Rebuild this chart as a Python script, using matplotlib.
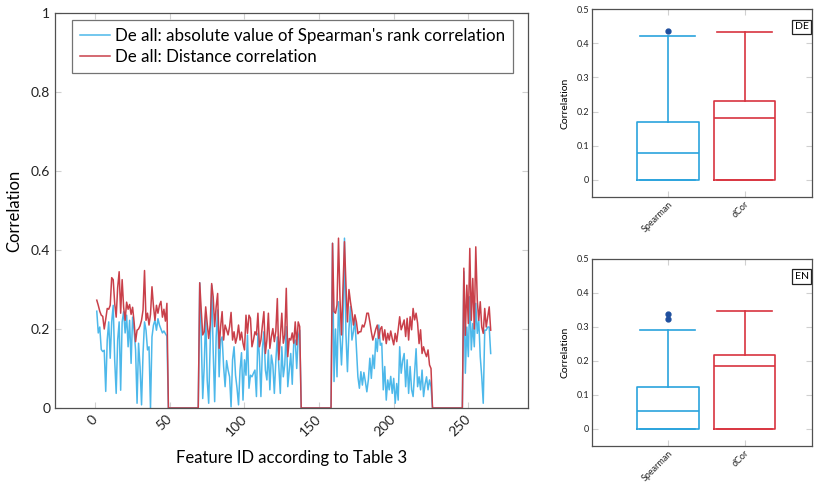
import matplotlib
matplotlib.use("Agg")
import matplotlib.pyplot as plt
import matplotlib.transforms as mtransforms
import numpy as np

plt.rcParams['font.family'] = ['Lato', 'DejaVu Sans']

BLUE = '#4db8ea'
RED = '#c9404a'
BOX_BLUE = '#2aa3dd'
BOX_RED = '#d8343f'
FRAME = '#505050'
TICK = '#d0d0d0'

# correlation per feature (features 1..265)
SPEARMAN_SEG1 = [0.245, 0.190, 0.205, 0.148, 0.143, 0.146, 0.042, 0.172, 0.218, 0.126,
                 0.218, 0.260, 0.122, 0.037, 0.172, 0.218, 0.045, 0.218, 0.244, 0.190,
                 0.235, 0.155, 0.222, 0.113, 0.230, 0.197, 0.147, 0.012, 0.164, 0.104,
                 0.008, 0.138, 0.218, 0.197, 0.147, 0.155, 0.000, 0.180, 0.210, 0.222,
                 0.197, 0.226, 0.210, 0.200, 0.190, 0.195, 0.188, 0.182]
DCOR_SEG1 = [0.273, 0.260, 0.245, 0.235, 0.232, 0.200, 0.225, 0.252, 0.250, 0.260,
             0.330, 0.325, 0.265, 0.230, 0.305, 0.345, 0.240, 0.325, 0.255, 0.222,
             0.268, 0.250, 0.262, 0.237, 0.255, 0.218, 0.168, 0.197, 0.200, 0.208,
             0.222, 0.248, 0.348, 0.222, 0.240, 0.210, 0.237, 0.307, 0.257, 0.222,
             0.260, 0.240, 0.260, 0.270, 0.230, 0.250, 0.220, 0.265]

SPEARMAN_SEG2 = [0.317, 0.180, 0.024, 0.105, 0.240, 0.071, 0.012, 0.164, 0.311, 0.147,
                 0.016, 0.180, 0.248, 0.079, 0.172, 0.180, 0.105, 0.054, 0.120, 0.096,
                 0.079, 0.003, 0.122, 0.155, 0.083, 0.050, 0.008, 0.096, 0.140, 0.020,
                 0.122, 0.083, 0.185, 0.050, 0.083, 0.079, 0.088, 0.096, 0.029, 0.189,
                 0.130, 0.029, 0.150, 0.193, 0.096, 0.071, 0.147, 0.046, 0.134, 0.109,
                 0.037, 0.120, 0.180, 0.105, 0.037, 0.155, 0.079, 0.110, 0.206, 0.054,
                 0.096, 0.138, 0.060, 0.164, 0.172, 0.100, 0.180, 0.197]
DCOR_SEG2 = [0.317, 0.248, 0.185, 0.193, 0.256, 0.214, 0.176, 0.210, 0.315, 0.282,
             0.206, 0.256, 0.290, 0.151, 0.206, 0.244, 0.172, 0.210, 0.198, 0.185,
             0.206, 0.242, 0.172, 0.193, 0.164, 0.180, 0.210, 0.172, 0.192, 0.164,
             0.147, 0.235, 0.189, 0.235, 0.227, 0.155, 0.172, 0.193, 0.185, 0.240,
             0.155, 0.172, 0.210, 0.244, 0.138, 0.172, 0.240, 0.151, 0.180, 0.201,
             0.168, 0.195, 0.277, 0.122, 0.180, 0.240, 0.164, 0.185, 0.303, 0.130,
             0.176, 0.172, 0.190, 0.164, 0.218, 0.160, 0.218, 0.206]

SPEARMAN_SEG3 = [0.417, 0.067, 0.200, 0.079, 0.269, 0.185, 0.109, 0.197, 0.430, 0.185,
                 0.092, 0.200, 0.257, 0.172, 0.193, 0.225, 0.151, 0.079, 0.050, 0.092,
                 0.058, 0.090, 0.067, 0.041, 0.071, 0.126, 0.075, 0.134, 0.100, 0.176,
                 0.143, 0.210, 0.159,
                 0.164, 0.046, 0.105, 0.020, 0.071, 0.046, 0.080, 0.037, 0.075, 0.012,
                 0.062, 0.020, 0.155, 0.088, 0.120, 0.138, 0.054, 0.122, 0.037, 0.105,
                 0.046, 0.029, 0.088, 0.150, 0.054, 0.079, 0.046, 0.096, 0.029, 0.060,
                 0.079, 0.046, 0.071, 0.054]
DCOR_SEG3 = [0.417, 0.244, 0.240, 0.261, 0.430, 0.277, 0.185, 0.299, 0.421, 0.311,
             0.218, 0.300, 0.269, 0.244, 0.210, 0.236, 0.218, 0.188, 0.193, 0.193,
             0.210, 0.205, 0.218, 0.240, 0.240, 0.218, 0.193, 0.172, 0.185, 0.200,
             0.210, 0.176, 0.200,
             0.206, 0.172, 0.198, 0.163, 0.189, 0.172, 0.195, 0.176, 0.160, 0.189,
             0.168, 0.198, 0.231, 0.198, 0.210, 0.223, 0.181, 0.227, 0.172, 0.231,
             0.198, 0.252, 0.223, 0.240, 0.215, 0.163, 0.198, 0.138, 0.155, 0.140,
             0.130, 0.147, 0.109, 0.100]

SPEARMAN_SEG4 = [0.345, 0.088, 0.205, 0.130, 0.282, 0.147, 0.214, 0.155, 0.265, 0.189,
                 0.222, 0.130, 0.079, 0.012, 0.197, 0.197, 0.205, 0.205, 0.138]
DCOR_SEG4 = [0.354, 0.184, 0.311, 0.214, 0.404, 0.222, 0.328, 0.200, 0.408, 0.273,
             0.222, 0.269, 0.205, 0.189, 0.252, 0.205, 0.231, 0.256, 0.197]

GAP = [0.0] * 21  # features with zero correlation between the groups

# boxplot summaries (DE / EN)
BOX_LABELS = ['Spearman', 'dCor']
DE_MED = [0.078, 0.182]
DE_Q1 = [0.0, 0.0]
DE_Q3 = [0.170, 0.230]
DE_WHISLO = [0.0, 0.0]
DE_WHISHI = [0.421, 0.432]
DE_FLIERS = [[0.437], []]
EN_MED = [0.054, 0.185]
EN_Q1 = [0.0, 0.0]
EN_Q3 = [0.123, 0.218]
EN_WHISLO = [0.0, 0.0]
EN_WHISHI = [0.290, 0.347]
EN_FLIERS = [[0.323, 0.337], []]

spearman = np.array(SPEARMAN_SEG1 + GAP + SPEARMAN_SEG2 + GAP + SPEARMAN_SEG3 + GAP + SPEARMAN_SEG4)
dcor = np.array(DCOR_SEG1 + GAP + DCOR_SEG2 + GAP + DCOR_SEG3 + GAP + DCOR_SEG4)
feature_id = np.arange(1, len(spearman) + 1)


def style_axes(ax, labelsize, pad=3.5):
    for s in ax.spines.values():
        s.set_color(FRAME)
        s.set_linewidth(0.9)
    ax.tick_params(direction='in', top=True, right=True, color=TICK,
                   length=4, width=0.8, labelsize=labelsize, labelcolor='#222222',
                   pad=pad)


def rotate_xlabels(ax, shift_px=0):
    offset = mtransforms.ScaledTranslation(-shift_px / 100, 0, ax.figure.dpi_scale_trans)
    for lab in ax.get_xticklabels():
        lab.set_rotation(45)
        lab.set_ha('right')
        lab.set_rotation_mode('anchor')
        lab.set_transform(lab.get_transform() + offset)


fig = plt.figure(figsize=(8.14, 4.84), dpi=100)

# main line chart
ax = fig.add_axes([55 / 814, 76 / 484, 473 / 814, 395 / 484])
ax.plot(feature_id, spearman, color=BLUE, lw=1.1,
        label="De all: absolute value of Spearman's rank correlation")
ax.plot(feature_id, dcor, color=RED, lw=1.1, label='De all: Distance correlation')
ax.set_xlim(-27, 290)
ax.set_ylim(0, 1)
ax.set_xticks([0, 50, 100, 150, 200, 250])
ax.set_yticks([0, 0.2, 0.4, 0.6, 0.8, 1])
ax.set_yticklabels(['0', '0.2', '0.4', '0.6', '0.8', '1'])
style_axes(ax, 10)
rotate_xlabels(ax, shift_px=4)
ax.set_xlabel('Feature ID according to Table 3', fontsize=12, labelpad=8)
ax.set_ylabel('Correlation', fontsize=12, labelpad=6)
leg = ax.legend(loc='upper left', bbox_to_anchor=(0.036, 0.982), borderaxespad=0,
                fontsize=12.2, fancybox=False, handlelength=1.8, handletextpad=0.3,
                labelspacing=0.33, borderpad=0.45)
leg.get_frame().set_edgecolor(FRAME)
leg.get_frame().set_linewidth(0.9)


def box_panel(rect, med, q1, q3, wlo, whi, fliers, tag):
    bx = fig.add_axes(rect)
    stats = []
    for i in range(len(BOX_LABELS)):
        stats.append({'med': med[i], 'q1': q1[i], 'q3': q3[i],
                      'whislo': wlo[i], 'whishi': whi[i], 'fliers': fliers[i]})
    parts = bx.bxp(stats, positions=[1, 2], widths=0.8, capwidths=0.72,
                   showfliers=True, patch_artist=False)
    for i, c in enumerate([BOX_BLUE, BOX_RED]):
        parts['boxes'][i].set(color=c, lw=1.2)
        parts['medians'][i].set(color=c, lw=1.2)
        for w in parts['whiskers'][2 * i:2 * i + 2]:
            w.set(color=c, lw=1.2)
        for cp in parts['caps'][2 * i:2 * i + 2]:
            cp.set(color=c, lw=1.2)
        parts['fliers'][i].set(marker='o', markerfacecolor='#1f4f9e',
                               markeredgecolor='#1f4f9e', markersize=3.5)
    bx.set_xlim(0.01, 2.88)
    bx.set_ylim(-0.05, 0.5)
    bx.set_yticks([0, 0.1, 0.2, 0.3, 0.4, 0.5])
    bx.set_yticklabels(['0', '0.1', '0.2', '0.3', '0.4', '0.5'])
    bx.set_xticks([1, 2])
    bx.set_xticklabels(BOX_LABELS)
    style_axes(bx, 6.5, pad=2)
    rotate_xlabels(bx)
    bx.set_ylabel('Correlation', fontsize=7.5, labelpad=5)
    bx.text(0.985, 0.93, tag, transform=bx.transAxes, ha='right', va='top',
            fontsize=7.5, bbox=dict(boxstyle='square,pad=0.25', fc='white',
                                    ec='#222222', lw=0.9))
    return bx


box_panel([592 / 814, 287 / 484, 220 / 814, 188 / 484],
          DE_MED, DE_Q1, DE_Q3, DE_WHISLO, DE_WHISHI, DE_FLIERS, 'DE')
box_panel([592 / 814, 38 / 484, 220 / 814, 187 / 484],
          EN_MED, EN_Q1, EN_Q3, EN_WHISLO, EN_WHISHI, EN_FLIERS, 'EN')

fig.savefig('out.png', dpi=100)
